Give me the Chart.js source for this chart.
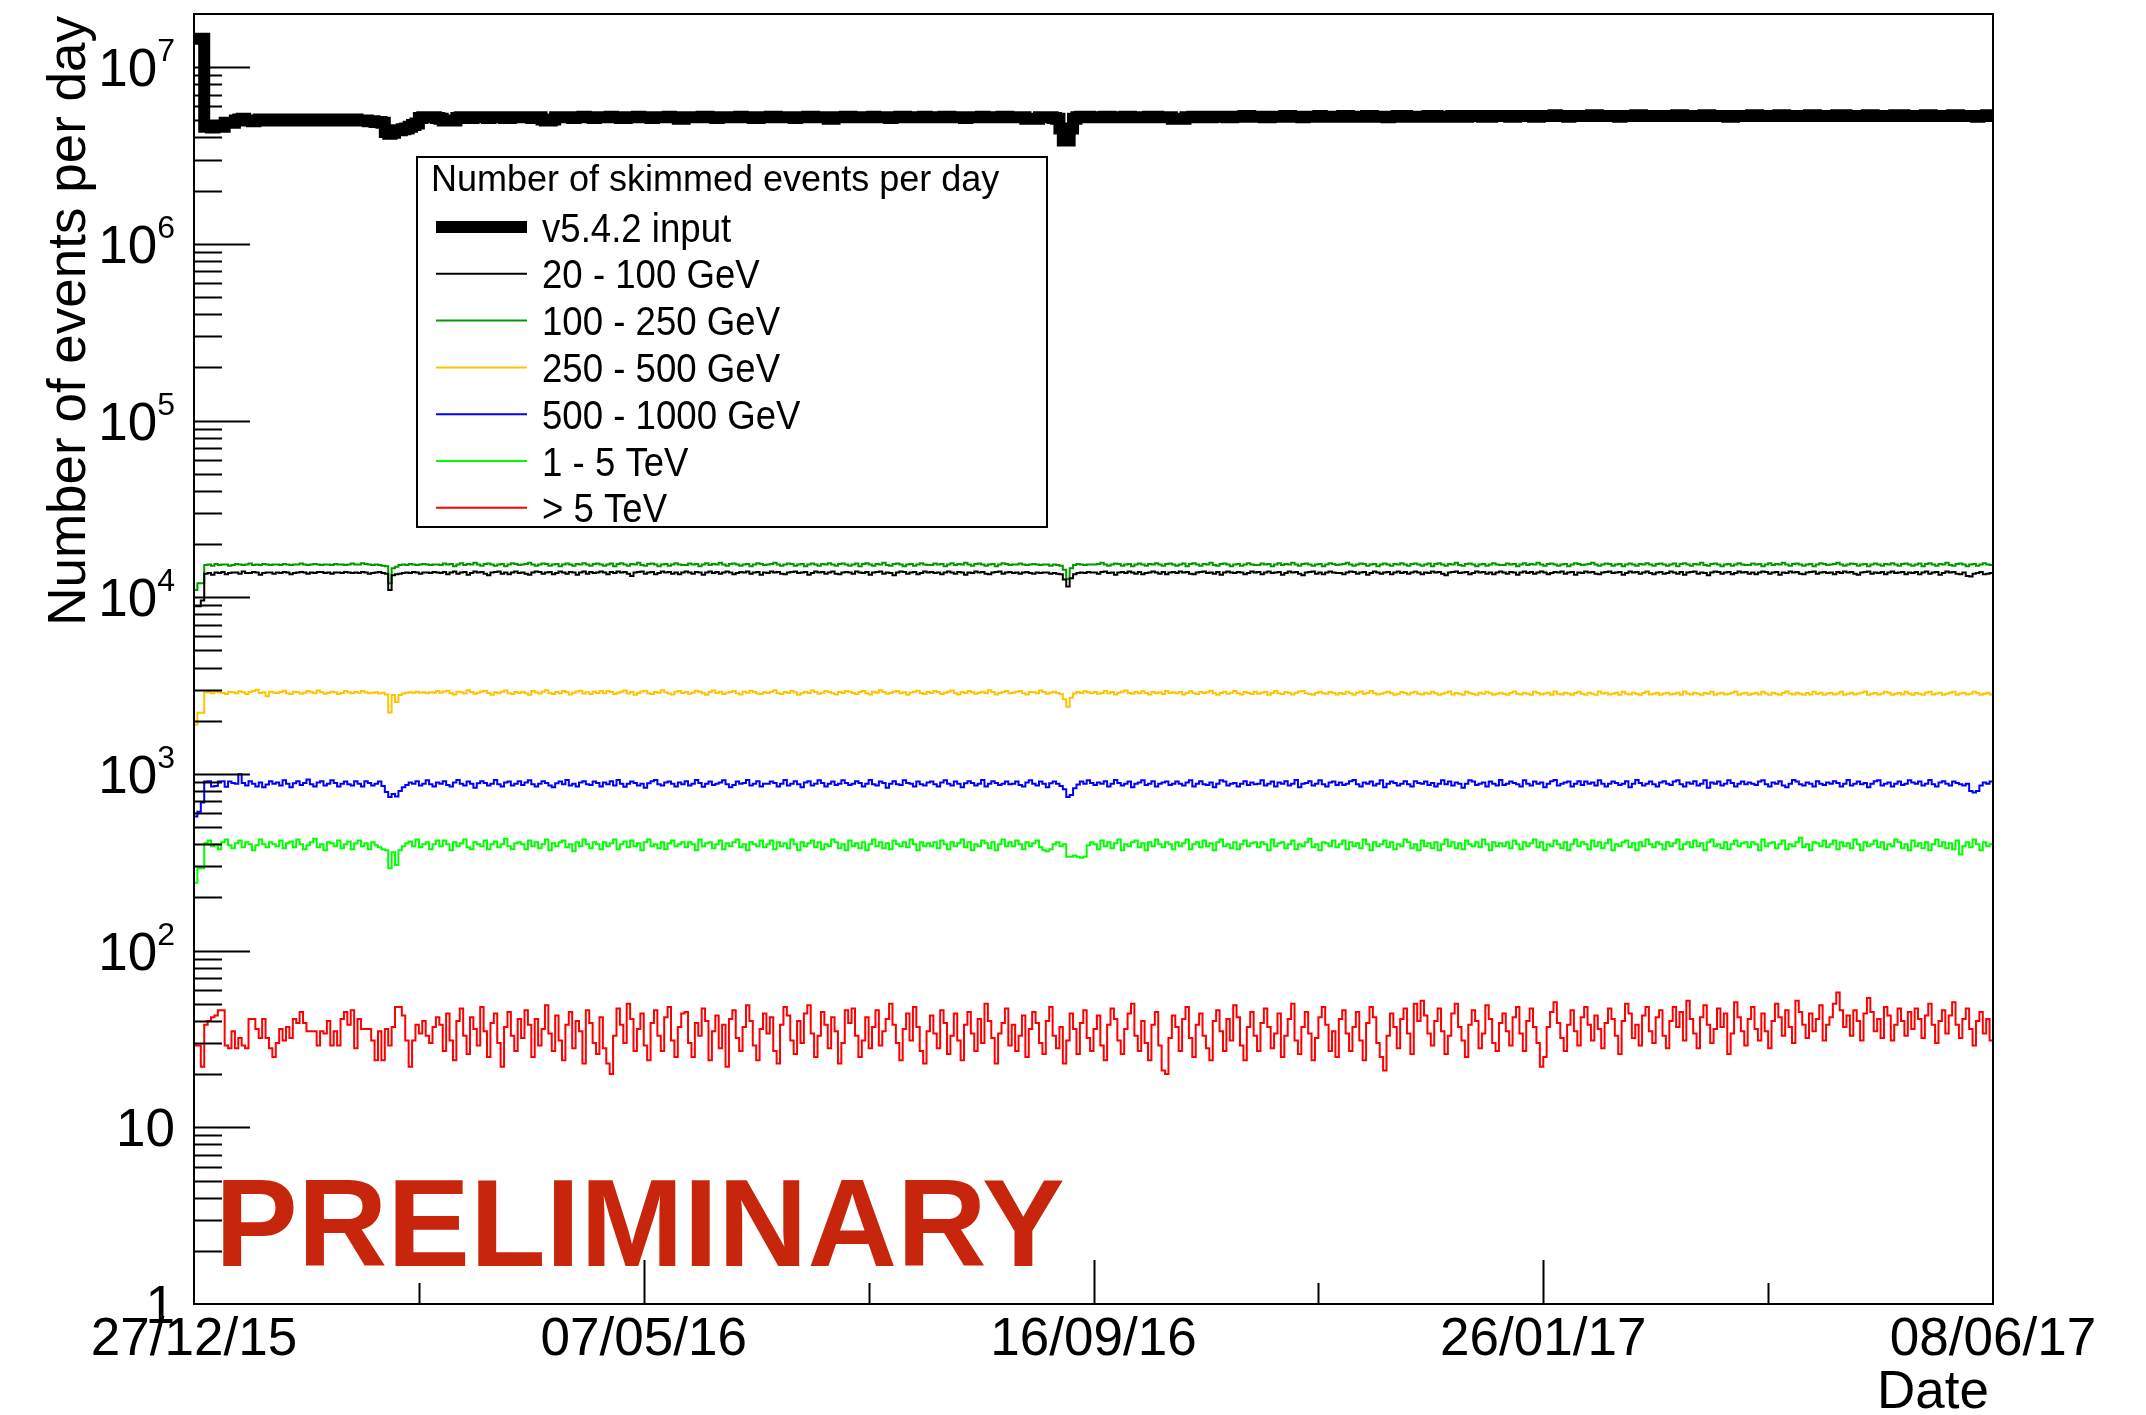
<!DOCTYPE html>
<html>
<head>
<meta charset="utf-8">
<title>Number of skimmed events per day</title>
<script src="https://cdn.jsdelivr.net/npm/chart.js@4.4.1/dist/chart.umd.min.js"></script>
<style>
  html, body { margin: 0; padding: 0; background: #fff; }
  canvas { display: block; }
</style>
</head>
<body>
<canvas id="eventsChart" width="2146" height="1415"></canvas>
<script>
// x axis: days since 27/12/15, one bin per day
const dateTickDays = [0, 132, 264, 396, 528]
const dateTickLabels = ['27/12/15', '07/05/16', '16/09/16', '26/01/17', '08/06/17']
const dateMinorTickDays = [66, 198, 330, 462]
const yTickExponents = [0, 1, 2, 3, 4, 5, 6, 7]
const seriesLabels = ['v5.4.2 input', '20 - 100 GeV', '100 - 250 GeV', '250 - 500 GeV', '500 - 1000 GeV', '1 - 5 TeV', '> 5 TeV']
const legendTitle = 'Number of skimmed events per day'

const inputPerDay = [
  1.45e7,1.45e7,1.45e7,4.6e6,4.6e6,4.55e6,4.6e6,4.65e6,4.6e6,4.85e6,4.85e6,4.85e6,5.0e6,5.05e6,5.1e6,5.0e6,5.0e6,4.95e6,5.0e6,5.05e6,5.0e6,5.0e6,5.05e6,5.0e6,
  5.0e6,5.0e6,5.05e6,5.05e6,5.0e6,5.0e6,5.0e6,5.05e6,5.05e6,5.0e6,5.0e6,5.0e6,5.05e6,5.05e6,5.05e6,5.0e6,5.0e6,5.0e6,5.05e6,5.05e6,5.0e6,5.0e6,5.0e6,5.05e6,
  5.0e6,5.0e6,5.0e6,4.95e6,4.95e6,4.9e6,4.9e6,4.85e6,4.3e6,4.2e6,4.25e6,4.4e6,4.4e6,4.45e6,4.5e6,4.6e6,4.7e6,4.8e6,5.15e6,5.2e6,5.2e6,5.2e6,5.2e6,5.15e6,
  5.1e6,5.0e6,5.0e6,5.0e6,5.0e6,5.15e6,5.2e6,5.2e6,5.2e6,5.15e6,5.2e6,5.2e6,5.2e6,5.2e6,5.15e6,5.2e6,5.2e6,5.2e6,5.2e6,5.15e6,5.15e6,5.2e6,5.2e6,5.2e6,
  5.2e6,5.2e6,5.2e6,5.15e6,5.15e6,5.2e6,5.05e6,5.0e6,5.0e6,5.05e6,5.2e6,5.2e6,5.2e6,5.2e6,5.2e6,5.15e6,5.2e6,5.2e6,5.25e6,5.2e6,5.2e6,5.15e6,5.2e6,5.2e6,
  5.2e6,5.2e6,5.25e6,5.2e6,5.2e6,5.15e6,5.15e6,5.2e6,5.2e6,5.2e6,5.25e6,5.2e6,5.2e6,5.2e6,5.15e6,5.2e6,5.2e6,5.2e6,5.2e6,5.25e6,5.2e6,5.2e6,5.1e6,5.1e6,
  5.2e6,5.2e6,5.2e6,5.2e6,5.2e6,5.25e6,5.25e6,5.2e6,5.2e6,5.15e6,5.2e6,5.2e6,5.2e6,5.2e6,5.2e6,5.2e6,5.25e6,5.2e6,5.2e6,5.2e6,5.15e6,5.15e6,5.2e6,5.2e6,
  5.2e6,5.25e6,5.25e6,5.2e6,5.2e6,5.2e6,5.2e6,5.2e6,5.15e6,5.2e6,5.2e6,5.2e6,5.25e6,5.25e6,5.2e6,5.2e6,5.2e6,5.2e6,5.1e6,5.1e6,5.2e6,5.2e6,5.2e6,5.25e6,
  5.25e6,5.2e6,5.2e6,5.2e6,5.2e6,5.2e6,5.2e6,5.25e6,5.2e6,5.2e6,5.2e6,5.2e6,5.15e6,5.2e6,5.2e6,5.25e6,5.25e6,5.2e6,5.2e6,5.2e6,5.2e6,5.2e6,5.25e6,5.2e6,
  5.2e6,5.2e6,5.2e6,5.2e6,5.25e6,5.25e6,5.2e6,5.2e6,5.2e6,5.2e6,5.15e6,5.2e6,5.2e6,5.2e6,5.2e6,5.25e6,5.2e6,5.2e6,5.2e6,5.2e6,5.2e6,5.25e6,5.25e6,5.2e6,
  5.2e6,5.2e6,5.2e6,5.2e6,5.1e6,5.1e6,5.1e6,5.1e6,5.2e6,5.2e6,5.2e6,5.2e6,5.15e6,5.1e6,4.5e6,3.85e6,3.85e6,4.5e6,5.1e6,5.2e6,5.25e6,5.25e6,5.25e6,5.2e6,
  5.2e6,5.2e6,5.2e6,5.25e6,5.25e6,5.2e6,5.2e6,5.2e6,5.2e6,5.25e6,5.25e6,5.2e6,5.2e6,5.2e6,5.2e6,5.2e6,5.25e6,5.25e6,5.25e6,5.2e6,5.2e6,5.2e6,5.2e6,5.1e6,
  5.1e6,5.1e6,5.1e6,5.2e6,5.2e6,5.25e6,5.25e6,5.25e6,5.2e6,5.2e6,5.2e6,5.25e6,5.25e6,5.25e6,5.25e6,5.2e6,5.2e6,5.25e6,5.25e6,5.25e6,5.3e6,5.3e6,5.25e6,5.25e6,
  5.25e6,5.25e6,5.2e6,5.2e6,5.25e6,5.25e6,5.25e6,5.25e6,5.3e6,5.3e6,5.25e6,5.25e6,5.25e6,5.2e6,5.25e6,5.25e6,5.25e6,5.25e6,5.3e6,5.25e6,5.25e6,5.25e6,5.25e6,5.25e6,
  5.25e6,5.3e6,5.3e6,5.25e6,5.25e6,5.25e6,5.25e6,5.25e6,5.3e6,5.3e6,5.25e6,5.25e6,5.25e6,5.25e6,5.2e6,5.25e6,5.25e6,5.3e6,5.3e6,5.3e6,5.25e6,5.25e6,5.25e6,5.25e6,
  5.25e6,5.25e6,5.3e6,5.3e6,5.3e6,5.25e6,5.25e6,5.25e6,5.25e6,5.3e6,5.3e6,5.25e6,5.25e6,5.25e6,5.3e6,5.3e6,5.3e6,5.3e6,5.25e6,5.25e6,5.25e6,5.3e6,5.3e6,5.3e6,
  5.3e6,5.3e6,5.25e6,5.25e6,5.3e6,5.3e6,5.3e6,5.3e6,5.3e6,5.25e6,5.25e6,5.3e6,5.3e6,5.3e6,5.3e6,5.35e6,5.3e6,5.3e6,5.3e6,5.25e6,5.3e6,5.3e6,5.3e6,5.3e6,
  5.3e6,5.3e6,5.35e6,5.35e6,5.3e6,5.3e6,5.3e6,5.3e6,5.3e6,5.3e6,5.25e6,5.3e6,5.3e6,5.3e6,5.3e6,5.35e6,5.35e6,5.3e6,5.3e6,5.3e6,5.3e6,5.3e6,5.3e6,5.3e6,
  5.3e6,5.3e6,5.3e6,5.35e6,5.35e6,5.3e6,5.3e6,5.3e6,5.3e6,5.3e6,5.3e6,5.35e6,5.35e6,5.3e6,5.3e6,5.3e6,5.3e6,5.3e6,5.25e6,5.25e6,5.3e6,5.3e6,5.3e6,5.3e6,
  5.3e6,5.35e6,5.35e6,5.3e6,5.3e6,5.3e6,5.3e6,5.3e6,5.3e6,5.35e6,5.35e6,5.3e6,5.3e6,5.3e6,5.3e6,5.3e6,5.3e6,5.3e6,5.35e6,5.35e6,5.3e6,5.3e6,5.3e6,5.3e6,
  5.3e6,5.3e6,5.35e6,5.35e6,5.35e6,5.3e6,5.3e6,5.3e6,5.3e6,5.3e6,5.3e6,5.35e6,5.35e6,5.3e6,5.3e6,5.3e6,5.3e6,5.3e6,5.3e6,5.35e6,5.35e6,5.35e6,5.3e6,5.3e6,
  5.3e6,5.3e6,5.3e6,5.3e6,5.35e6,5.35e6,5.3e6,5.3e6,5.3e6,5.3e6,5.3e6,5.3e6,5.35e6,5.35e6,5.3e6,5.3e6,5.3e6,5.3e6,5.3e6,5.25e6,5.3e6,5.3e6,5.35e6,5.35e6
]

const gev20to100 = [
  8900,8900,9600,13600,13700,13400,13800,13700,13900,13500,13700,13800,13800,13600,14000,13700,13700,13900,13800,13400,13700,13800,13800,13600,
  13800,13700,13900,13800,13500,13700,13800,13900,13800,13600,13800,13700,13900,13900,13700,13800,13600,13800,13800,13700,13900,13800,13700,13800,
  13700,13900,13800,13600,13700,13800,13900,13700,13600,11000,13300,13500,13600,13700,13800,13700,13900,13800,13600,13800,13800,13700,13900,13800,
  13700,13900,13500,13800,14000,13600,13800,13900,13400,13700,14000,13800,13900,13600,13300,13800,13900,14000,13600,13800,13500,13800,14000,13700,
  13800,13600,13400,13800,14000,13900,13600,13800,13900,13500,13700,14000,13800,13600,13900,13800,13400,13800,14000,13600,13900,13700,13800,14000,
  13800,13500,13900,13700,14000,13800,13900,13600,13200,13800,13900,14000,13600,13800,13900,13500,13700,14000,13800,13900,13600,13800,13500,13800,
  14000,13800,13600,13900,13800,13400,13800,14000,13700,13900,13600,13800,14000,13800,13500,13700,13900,13800,14000,13600,13800,13900,13400,13800,
  13700,14000,13800,13900,13600,13500,13800,13900,14000,13700,13800,13900,13400,13700,14000,13800,13900,13600,13800,14000,13600,13500,13800,13900,
  13800,13600,14000,13800,13700,13900,13400,13800,13900,14000,13600,13800,13700,13300,13800,14000,13900,13600,13800,13900,13500,13700,14000,13800,
  13900,13700,13800,13500,13800,14000,13800,13600,13900,13800,13400,13800,13700,14000,13800,13900,13600,13500,13800,13900,14000,13600,13800,13900,
  13700,13800,13600,13800,13900,13700,13600,13800,13700,13800,13800,13600,13700,13600,13500,12600,11500,12800,13500,13700,13800,13700,13900,13800,
  13800,13600,13900,14000,13700,13800,13400,13800,13900,13700,14000,13800,13600,13900,13500,13700,13800,14000,13800,13600,13900,13500,13800,13900,
  13700,14000,13800,13900,13600,13500,13800,13900,14000,13700,13800,13600,13900,13400,13800,14000,13800,13700,13900,13800,13500,13700,14000,13800,
  13900,13500,13800,14000,13700,13800,13900,13400,13700,14000,13800,13900,13600,13300,13800,13900,14000,13600,13800,13500,13800,14000,13800,13700,
  13700,13500,13800,14000,13900,13600,13800,13900,13400,13700,14000,13800,13600,13800,13900,13500,13800,14000,13700,13900,13600,13800,14000,13800,
  13500,13800,13700,14000,13800,13900,13600,13300,13800,13900,14000,13700,13800,13900,13500,13700,14000,13800,13900,13600,13800,13500,13800,14000,
  13800,13600,13900,13800,13400,13800,14000,13700,13900,13600,13800,14000,13800,13500,13700,13900,13800,14000,13600,13800,13900,13400,13800,13700,
  14000,13800,13900,13600,13500,13800,13900,14000,13700,13800,13900,13400,13700,14000,13800,13900,13600,13800,14000,13700,13500,13800,13900,13600,
  13700,14000,13800,13600,13900,13400,13800,13900,14000,13600,13800,13700,13300,13800,14000,13900,13600,13800,13900,13500,13700,14000,13800,13900,
  13600,13800,13500,13800,14000,13900,13600,13800,13900,13400,13800,13700,14000,13800,13900,13600,13500,13800,13900,14000,13600,13800,13900,13700,
  13800,13500,13900,13700,14000,13800,13900,13600,13400,13800,13900,14000,13600,13800,13700,13900,13500,13800,14000,13700,13800,13900,13500,13800,
  13700,13900,13500,13800,14000,13600,13800,13900,13400,13700,14000,13800,13900,13600,13500,13800,13200,13100,13600,13700,13900,13500,13600,13700
]

const gev100to250 = [
  11000,12000,12000,15200,15300,15100,15400,15200,15300,15300,15100,15200,15400,15300,15200,15300,15500,15200,15300,15200,15400,15300,15200,15300,
  15300,15200,15400,15300,15200,15300,15300,15500,15300,15200,15300,15400,15300,15200,15300,15300,15200,15400,15300,15300,15200,15300,15500,15300,
  15300,15600,15400,15300,15200,15300,15200,15100,15000,12000,14600,14900,15200,15300,15200,15400,15300,15200,15300,15400,15300,15200,15300,15300,
  15200,15500,15300,15400,15000,15300,15600,15200,15400,15300,15700,15300,15100,15400,15500,15300,15100,15300,15400,15000,15300,15600,15400,15200,
  15300,15400,15700,15300,15100,15300,15500,15400,15100,15300,15400,15000,15300,15500,15300,15100,15400,15300,15600,15300,15100,15400,15500,15300,
  15100,15300,15500,15000,15400,15600,15300,15100,15400,15300,15700,15200,15100,15400,15500,15300,15000,15300,15400,15100,15300,15600,15300,15200,
  15200,15500,15300,15400,15000,15300,15600,15200,15400,15300,15700,15300,15100,15400,15500,15300,15100,15300,15400,15000,15300,15600,15400,15200,
  15300,15400,15700,15300,15100,15300,15500,15400,15100,15300,15400,15000,15300,15500,15300,15100,15400,15300,15600,15300,15100,15400,15500,15300,
  15100,15300,15500,15000,15400,15600,15300,15100,15400,15300,15700,15200,15100,15400,15500,15300,15000,15300,15400,15100,15300,15600,15300,15200,
  15200,15500,15300,15400,15000,15300,15600,15200,15400,15300,15700,15300,15100,15400,15500,15300,15100,15300,15400,15000,15300,15600,15400,15200,
  15300,15300,15500,15300,15200,15300,15400,15300,15200,15300,15300,15100,15300,15200,15100,14300,12700,14600,15200,15400,15300,15200,15300,15300,
  15300,15400,15700,15300,15100,15300,15500,15400,15100,15300,15400,15000,15300,15500,15300,15100,15400,15300,15600,15300,15100,15400,15500,15300,
  15100,15300,15500,15000,15400,15600,15300,15100,15400,15300,15700,15200,15100,15400,15500,15300,15000,15300,15400,15100,15300,15600,15300,15200,
  15200,15500,15300,15400,15000,15300,15600,15200,15400,15300,15700,15300,15100,15400,15500,15300,15100,15300,15400,15000,15300,15600,15400,15200,
  15300,15400,15700,15300,15100,15300,15500,15400,15100,15300,15400,15000,15300,15500,15300,15100,15400,15300,15600,15300,15100,15400,15500,15300,
  15100,15300,15500,15000,15400,15600,15300,15100,15400,15300,15700,15200,15100,15400,15500,15300,15000,15300,15400,15100,15300,15600,15300,15200,
  15200,15500,15300,15400,15000,15300,15600,15200,15400,15300,15700,15300,15100,15400,15500,15300,15100,15300,15400,15000,15300,15600,15400,15200,
  15300,15400,15700,15300,15100,15300,15500,15400,15100,15300,15400,15000,15300,15500,15300,15100,15400,15300,15600,15300,15100,15400,15500,15300,
  15100,15300,15500,15000,15400,15600,15300,15100,15400,15300,15700,15200,15100,15400,15500,15300,15000,15300,15400,15100,15300,15600,15300,15200,
  15200,15500,15300,15400,15000,15300,15600,15200,15400,15300,15700,15300,15100,15400,15500,15300,15100,15300,15400,15000,15300,15600,15400,15200,
  15300,15400,15700,15300,15100,15300,15500,15400,15100,15300,15400,15000,15300,15500,15300,15100,15400,15300,15600,15300,15100,15400,15500,15300,
  15100,15300,15500,15000,15400,15600,15300,15100,15400,15300,15700,15200,15100,15400,15500,15300,15000,15300,15400,15100,15300,15600,15300,15200
]

const gev250to500 = [
  1900,2220,2220,2900,2910,2860,2940,2900,2870,2830,2910,2900,2860,2940,2900,2830,2910,2950,3000,2870,2900,2750,2920,2890,
  2870,2910,2960,2860,2830,2920,2900,2840,2880,2950,2900,2860,2970,2900,2840,2880,2920,2900,2830,2870,2950,2900,2860,2910,
  2880,2950,2900,2860,2880,2900,2850,2880,2820,2230,2800,2550,2800,2850,2880,2900,2880,2920,2880,2900,2860,2900,2880,2950,
  2880,2930,2960,2860,2820,2920,2900,2850,2980,2910,2840,2880,2930,2960,2870,2810,2900,2860,2920,2970,2860,2830,2910,2870,
  2920,2860,2810,2950,2900,2850,2920,2980,2870,2830,2910,2860,2950,2900,2820,2880,2930,2960,2850,2900,2830,2920,2870,2950,
  2860,2950,2910,2830,2880,2920,2970,2850,2910,2810,2870,2930,2960,2860,2830,2910,2880,2980,2900,2850,2820,2920,2950,2870,
  2910,2840,2880,2960,2920,2860,2810,2910,2970,2870,2920,2830,2880,2910,2950,2860,2820,2920,2880,2960,2910,2850,2830,2900,
  2870,2920,2980,2860,2830,2910,2870,2950,2900,2810,2860,2920,2870,2970,2910,2840,2880,2950,2910,2860,2820,2910,2870,2950,
  2920,2870,2830,2910,2950,2860,2820,2920,2880,2980,2910,2840,2870,2920,2950,2860,2900,2810,2880,2920,2960,2870,2830,2910,
  2870,2950,2910,2830,2880,2920,2970,2860,2820,2910,2870,2950,2900,2840,2880,2920,2860,2980,2910,2820,2870,2910,2950,2860,
  2880,2920,2950,2860,2820,2910,2900,2860,2970,2910,2840,2880,2920,2870,2830,2650,2400,2700,2850,2910,2870,2940,2900,2860,
  2910,2840,2870,2950,2860,2910,2820,2880,2920,2970,2870,2840,2910,2860,2940,2870,2820,2910,2860,2900,2830,2950,2870,2900,
  2860,2910,2820,2870,2940,2860,2830,2910,2870,2900,2960,2860,2810,2870,2920,2840,2880,2950,2860,2820,2910,2870,2830,2920,
  2840,2880,2920,2810,2870,2950,2860,2830,2910,2870,2820,2880,2930,2950,2860,2830,2810,2870,2920,2860,2840,2910,2870,2820,
  2870,2830,2920,2860,2810,2880,2930,2840,2870,2950,2860,2820,2840,2880,2920,2860,2810,2840,2910,2870,2820,2880,2920,2840,
  2820,2880,2840,2920,2860,2810,2840,2880,2930,2820,2870,2840,2810,2920,2870,2830,2810,2880,2840,2920,2860,2810,2840,2880,
  2840,2810,2870,2930,2840,2820,2880,2840,2810,2920,2870,2820,2850,2880,2810,2930,2840,2820,2880,2850,2810,2870,2920,2840,
  2810,2880,2840,2810,2930,2850,2880,2820,2840,2880,2810,2920,2840,2820,2880,2840,2810,2870,2930,2820,2840,2880,2810,2850,
  2880,2820,2840,2880,2810,2930,2850,2820,2880,2840,2810,2870,2840,2920,2810,2850,2880,2820,2840,2880,2930,2810,2850,2880,
  2810,2840,2880,2820,2920,2850,2810,2880,2840,2810,2870,2930,2850,2820,2880,2840,2810,2870,2820,2920,2840,2880,2810,2850,
  2870,2820,2850,2920,2810,2840,2880,2820,2850,2880,2930,2810,2840,2870,2820,2850,2920,2880,2810,2840,2870,2820,2920,2850,
  2810,2870,2840,2810,2880,2920,2820,2850,2880,2810,2840,2880,2920,2810,2850,2880,2820,2840,2920,2870,2810,2840,2880,2820
]

const gev500to1000 = [
  575,610,690,905,910,850,855,905,910,845,905,890,880,995,890,860,910,880,850,895,840,870,910,880,
  895,860,920,880,840,885,910,865,890,930,875,850,895,910,860,880,920,890,850,880,905,875,860,910,
  880,850,910,890,860,880,905,855,790,740,770,745,800,840,865,895,880,910,860,880,920,875,850,895,
  880,910,865,850,895,925,880,860,905,880,835,885,910,890,860,880,925,875,850,895,905,860,880,910,
  865,895,920,875,850,880,910,890,860,840,885,905,875,925,860,880,850,895,910,875,865,905,890,850,
  895,875,910,860,925,880,845,880,905,890,860,880,835,885,910,925,875,860,895,905,880,850,895,875,
  910,860,880,925,890,845,880,905,865,880,895,920,875,840,865,905,880,890,925,860,880,910,850,880,
  880,905,890,850,880,925,860,880,910,875,840,895,910,860,880,920,890,850,880,905,865,880,920,890,
  865,880,910,890,850,880,925,875,860,905,890,835,880,910,875,865,920,890,880,850,905,875,860,895,
  905,875,850,895,920,880,860,905,880,840,885,910,890,860,880,925,850,880,910,890,865,880,905,875,
  880,905,865,850,895,920,880,860,905,880,840,885,905,880,855,820,740,760,830,870,905,880,920,890,
  865,895,880,910,850,880,925,890,860,880,905,840,880,895,920,865,880,910,850,880,895,905,865,880,
  905,880,860,895,920,850,880,910,875,865,895,840,880,920,905,860,880,890,850,880,910,865,895,875,
  880,920,860,880,905,850,895,880,910,860,880,925,840,880,890,910,860,880,920,875,850,895,905,865,
  895,865,880,910,925,875,850,895,880,905,860,880,920,840,880,905,890,860,880,910,875,850,910,890,
  880,905,865,890,850,880,920,875,905,860,895,880,835,880,920,905,865,880,895,850,905,880,860,925,
  865,880,905,890,875,850,920,880,860,905,880,895,840,880,910,925,860,880,895,905,850,880,910,865,
  905,880,895,860,920,880,850,880,905,890,865,880,910,840,880,925,890,860,880,905,875,850,895,910,
  880,865,905,920,875,850,895,880,910,860,880,920,835,895,880,905,860,880,920,890,850,880,905,875,
  895,880,865,905,920,875,850,895,880,910,860,840,880,925,905,875,860,895,880,850,910,880,865,895,
  880,910,890,850,880,925,860,880,905,875,890,840,880,910,920,860,880,895,850,880,905,865,880,920,
  895,880,905,860,880,925,875,850,895,910,880,860,905,890,875,860,880,800,785,800,860,895,880,905
]

const tev1to5 = [
  242,293,293,405,420,390,400,375,410,425,395,380,405,420,385,410,400,370,395,425,400,385,410,400,
  390,420,380,405,415,385,425,400,375,395,410,430,385,400,370,410,405,390,420,380,400,415,375,405,
  420,390,405,375,410,395,385,375,370,293,360,305,370,390,405,415,390,425,385,400,410,375,400,420,
  390,420,400,370,410,390,405,425,385,375,410,400,390,420,375,400,415,385,400,430,390,375,405,410,
  400,375,420,390,410,380,400,425,370,405,390,410,420,385,400,365,410,390,425,400,380,410,400,375,
  410,390,405,425,375,400,415,385,420,390,405,370,410,425,390,400,380,410,375,405,420,390,400,410,
  385,410,400,370,425,390,405,410,380,400,420,375,405,390,410,425,385,400,370,410,400,390,420,385,
  400,420,375,410,390,405,380,425,400,370,410,390,405,420,385,410,375,400,390,425,410,380,400,370,
  420,390,405,380,410,370,400,425,390,410,380,405,375,420,400,390,410,385,425,400,370,410,390,405,
  390,410,380,420,400,375,410,390,405,425,385,410,370,400,390,420,405,380,410,370,400,425,390,410,
  390,420,400,375,410,390,405,420,385,370,365,375,400,410,390,400,340,340,345,340,335,340,395,410,
  400,375,420,390,410,380,405,425,370,400,390,410,420,385,405,370,410,390,425,400,385,410,400,375,
  410,390,405,425,375,400,410,385,420,390,405,370,410,425,390,400,380,410,375,400,420,390,405,410,
  385,410,400,370,425,390,405,410,380,400,420,375,400,390,410,430,385,400,370,410,405,390,420,385,
  400,420,375,410,390,405,380,425,400,370,410,390,400,420,385,410,375,400,390,425,410,380,400,370,
  420,390,405,380,410,370,400,425,390,410,380,405,375,420,400,390,410,385,425,400,370,410,390,405,
  390,410,380,420,400,375,410,390,405,425,385,410,370,400,390,420,400,380,410,370,400,425,390,410,
  400,375,420,390,410,380,405,425,370,400,390,410,420,385,405,370,410,390,425,400,385,410,400,375,
  410,390,405,425,375,400,410,385,420,390,405,370,410,425,390,400,380,410,375,400,420,390,405,410,
  385,410,400,370,425,390,405,410,380,400,420,375,400,390,410,435,385,400,370,410,405,390,420,385,
  400,420,375,410,390,405,380,425,400,370,410,390,400,420,385,410,375,400,390,425,410,380,400,370,
  420,390,405,380,410,370,400,425,390,410,380,405,375,420,350,390,410,385,425,400,370,410,390,400
]

const tevAbove5 = [
  29,29,22,38,40,42,43,46,46,29,28,35,28,32,29,28,41,41,36,32,41,32,28,25,
  30,36,31,37,32,41,39,45,39,35,35,35,29,35,34,40,29,35,29,41,45,38,46,28,
  41,36,36,36,31,24,35,24,36,29,37,48,48,43,31,22,31,38,34,40,33,30,37,42,
  38,27,44,31,24,40,47,33,26,42,36,29,48,35,25,39,44,30,22,37,45,33,27,41,
  32,46,38,25,41,29,36,49,34,27,43,31,24,38,45,28,40,35,23,46,39,30,26,42,
  28,23,20,33,47,38,30,50,41,27,36,44,29,24,39,46,33,27,42,48,31,25,37,44,
  45,30,25,39,33,47,40,24,35,43,28,38,22,41,46,32,27,37,49,40,29,24,36,44,
  34,42,27,23,38,48,43,31,26,40,30,44,49,34,25,33,45,38,28,42,35,23,30,46,
  39,47,33,25,31,42,28,37,46,29,35,41,50,38,30,24,36,44,31,48,37,27,23,35,
  43,34,28,46,39,26,33,44,31,24,38,45,34,27,41,30,50,40,32,23,34,39,47,29,
  38,27,33,43,25,36,45,39,30,26,40,48,33,28,37,23,31,44,36,26,39,46,32,27,
  36,43,29,24,38,47,41,31,26,36,44,50,33,27,40,30,24,38,45,29,21,20,32,43,
  37,27,41,48,32,25,38,44,33,28,24,40,46,35,27,41,31,49,42,29,24,37,45,33,
  27,39,47,37,28,34,44,25,33,41,50,31,26,37,45,34,24,32,42,48,38,27,35,25,
  41,46,34,27,37,45,31,24,39,48,42,30,25,21,33,44,37,28,41,47,34,26,50,40,
  52,43,34,29,40,47,35,26,33,44,50,37,31,25,38,46,40,28,34,49,41,30,27,39,
  44,35,29,42,48,34,27,40,47,37,30,22,25,37,45,51,39,32,27,38,46,35,29,42,
  48,38,31,43,36,28,39,47,41,33,26,40,50,44,32,38,29,43,48,35,30,42,46,33,
  28,40,48,37,45,31,52,41,34,28,42,49,38,30,36,47,37,44,26,34,51,42,35,29,
  41,48,36,31,44,35,28,40,50,42,33,46,37,30,52,45,38,32,44,35,41,49,31,38,
  42,50,58,46,37,43,33,46,40,31,44,54,45,35,41,32,48,43,31,38,47,40,33,45,
  36,47,41,32,43,50,38,30,40,46,34,43,51,38,32,41,47,36,29,40,45,34,41,31
]

const seriesValues = [inputPerDay, gev20to100, gev100to250, gev250to500, gev500to1000, tev1to5, tevAbove5]
const seriesColors = ['#000000', '#000000', '#009900', '#ffc400', '#0000ff', '#00ff00', '#ff0000']
const seriesWidths = [12, 2, 2, 2, 2, 2, 2]

const FONT = '"Liberation Sans", Arial, Helvetica, sans-serif'
const Y_MAX = 2e7

// histogram bins: value i covers [i, i+1), closed with one extra point
function toSteps(values) {
  const points = values.map((v, i) => ({ x: i, y: v }))
  points.push({ x: values.length, y: values[values.length - 1] })
  return points
}

function drawYAxis(chart) {
  const ctx = chart.ctx
  const area = chart.chartArea
  const ys = chart.scales.y
  ctx.strokeStyle = '#000'
  ctx.lineWidth = 2
  yTickExponents.forEach((e) => {
    for (let m = 1; m <= 9; m++) {
      const v = m * Math.pow(10, e)
      if (v <= 1 || v >= Y_MAX) continue
      const y = Math.round(ys.getPixelForValue(v)) + 0.5
      ctx.beginPath()
      ctx.moveTo(area.left, y)
      ctx.lineTo(area.left + (m === 1 ? 56 : 28), y)
      ctx.stroke()
    }
  })

  ctx.fillStyle = '#000'
  ctx.textBaseline = 'alphabetic'
  const rightX = 175
  yTickExponents.forEach((e) => {
    const y = ys.getPixelForValue(Math.pow(10, e))
    if (e < 2) {
      ctx.font = '53px ' + FONT
      ctx.textAlign = 'right'
      ctx.fillText(e === 0 ? '1' : '10', rightX, y + 19)
      return
    }
    ctx.font = '32px ' + FONT
    const sup = String(e)
    const supWidth = ctx.measureText(sup).width
    ctx.textAlign = 'left'
    ctx.fillText(sup, rightX - supWidth, y - 6)
    ctx.font = '53px ' + FONT
    ctx.textAlign = 'right'
    ctx.fillText('10', rightX - supWidth, y + 19)
  })

  ctx.save()
  ctx.translate(85, 16)
  ctx.rotate(-Math.PI / 2)
  ctx.font = '53px ' + FONT
  ctx.textAlign = 'right'
  ctx.fillText('Number of events per day', 0, 0)
  ctx.restore()
}

function drawXAxis(chart) {
  const ctx = chart.ctx
  const area = chart.chartArea
  const xs = chart.scales.x
  ctx.strokeStyle = '#000'
  ctx.lineWidth = 2
  const tick = (day, len) => {
    const x = Math.round(xs.getPixelForValue(day)) + 0.5
    ctx.beginPath()
    ctx.moveTo(x, area.bottom)
    ctx.lineTo(x, area.bottom - len)
    ctx.stroke()
  }
  dateTickDays.slice(1, -1).forEach((d) => tick(d, 44))
  dateMinorTickDays.forEach((d) => tick(d, 21))

  ctx.fillStyle = '#000'
  ctx.font = '53px ' + FONT
  ctx.textAlign = 'center'
  ctx.textBaseline = 'alphabetic'
  dateTickDays.forEach((d, i) => {
    ctx.fillText(dateTickLabels[i], xs.getPixelForValue(d), 1355)
  })
  ctx.textAlign = 'right'
  ctx.fillText('Date', area.right - 4, 1408)
}

function drawLegend(chart) {
  const ctx = chart.ctx
  ctx.fillStyle = '#fff'
  ctx.fillRect(417, 157, 630, 370)
  ctx.strokeStyle = '#000'
  ctx.lineWidth = 2
  ctx.strokeRect(417, 157, 630, 370)

  ctx.fillStyle = '#000'
  ctx.font = '36px ' + FONT
  ctx.textAlign = 'left'
  ctx.textBaseline = 'alphabetic'
  ctx.fillText(legendTitle, 431, 191)

  chart.data.datasets.forEach((ds, i) => {
    const y = 227 + i * 46.8
    ctx.strokeStyle = ds.borderColor
    ctx.lineWidth = ds.borderWidth
    ctx.lineCap = 'butt'
    ctx.beginPath()
    ctx.moveTo(436, y)
    ctx.lineTo(527, y)
    ctx.stroke()
    ctx.save()
    ctx.translate(542, y + 14.5)
    ctx.scale(0.915, 1)
    ctx.font = '40px ' + FONT
    ctx.fillStyle = '#000'
    ctx.fillText(ds.label, 0, 0)
    ctx.restore()
  })
}

function drawStamp(chart) {
  const ctx = chart.ctx
  ctx.save()
  ctx.translate(215, 1266)
  ctx.font = 'bold 124px ' + FONT
  ctx.fillStyle = '#c8260c'
  ctx.textAlign = 'left'
  ctx.fillText('PRELIMINARY', 0, 0)
  ctx.restore()
}

const rootStyle = {
  id: 'rootStyle',
  afterDraw(chart) {
    const ctx = chart.ctx
    const area = chart.chartArea
    ctx.save()
    ctx.strokeStyle = '#000'
    ctx.lineWidth = 2
    ctx.strokeRect(area.left, area.top, area.right - area.left, area.bottom - area.top)
    drawYAxis(chart)
    drawXAxis(chart)
    drawLegend(chart)
    drawStamp(chart)
    ctx.restore()
  }
}

const ctx = document.getElementById('eventsChart')

new Chart(ctx, {
  type: 'line',
  data: {
    datasets: seriesValues.map((values, i) => ({
      label: seriesLabels[i],
      data: toSteps(values),
      borderColor: seriesColors[i],
      borderWidth: seriesWidths[i],
      borderJoinStyle: 'miter',
      borderCapStyle: 'butt',
      stepped: true,
      pointRadius: 0,
      fill: false
    }))
  },
  options: {
    responsive: false,
    animation: false,
    devicePixelRatio: 1,
    events: [],
    layout: { padding: { left: 194, top: 14, right: 153, bottom: 111 } },
    scales: {
      x: { type: 'linear', min: 0, max: 528, display: false },
      y: { type: 'logarithmic', min: 1, max: Y_MAX, display: false }
    },
    plugins: {
      legend: { display: false },
      tooltip: { enabled: false }
    }
  },
  plugins: [rootStyle]
})
</script>
</body>
</html>
